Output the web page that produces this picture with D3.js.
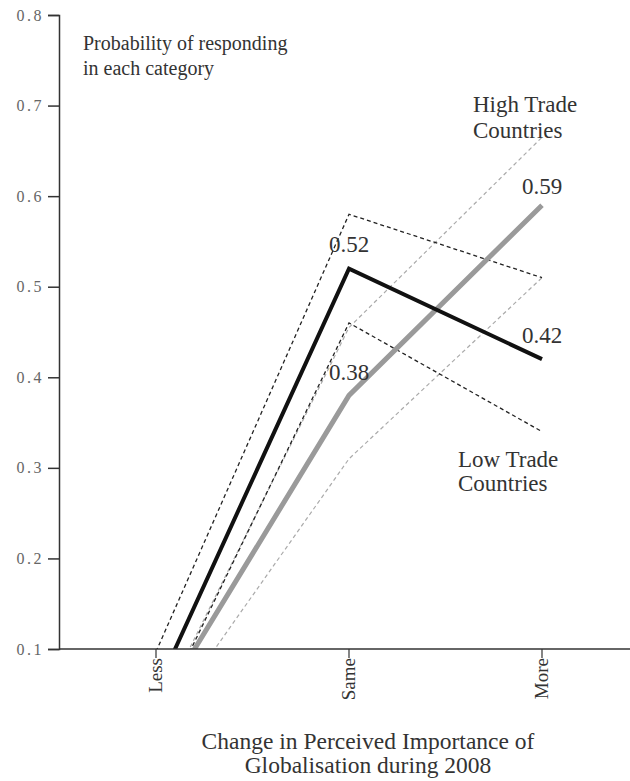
<!DOCTYPE html>
<html>
<head>
<meta charset="utf-8">
<script src="https://cdn.jsdelivr.net/npm/d3@7"></script>
<style>
  body { margin: 0; background: #fff; }
  text { font-family: "Liberation Serif", "DejaVu Serif", serif; }
</style>
</head>
<body>
<script>
  // values (below 0.1 is clipped by the axis)
  var categories = ["Less", "Same", "More"];
  var lowTrade   = [0.054, 0.52, 0.42];
  var lowUpper   = [0.097, 0.58, 0.51];
  var lowLower   = [0.02, 0.46, 0.34];
  var highTrade  = [0.03, 0.38, 0.59];
  var highUpper  = [0.026, 0.455, 0.665];
  var highLower  = [0.008, 0.31, 0.51];
  var yTicks = [0.1, 0.2, 0.3, 0.4, 0.5, 0.6, 0.7, 0.8];

  var width = 630, height = 781;
  var svg = d3.select("body").append("svg")
      .attr("width", width).attr("height", height);

  var x = d3.scalePoint().domain(categories).range([156, 542]);
  var y = d3.scaleLinear().domain([0.1, 0.8]).range([649, 15]);

  svg.append("clipPath").attr("id", "clip")
    .append("rect").attr("x", 59).attr("y", 0).attr("width", width - 59).attr("height", y(0.1));

  var line = d3.line()
      .x(function(d, i) { return x(categories[i]); })
      .y(function(d) { return y(d); });

  var plot = svg.append("g").attr("clip-path", "url(#clip)");

  // confidence bands first, then the estimates
  plot.append("path").attr("d", line(highUpper)).attr("fill", "none")
      .attr("stroke", "#aaa").attr("stroke-width", 1.2).attr("stroke-dasharray", "4,3");
  plot.append("path").attr("d", line(highLower)).attr("fill", "none")
      .attr("stroke", "#aaa").attr("stroke-width", 1.2).attr("stroke-dasharray", "4,3");
  plot.append("path").attr("d", line(lowUpper)).attr("fill", "none")
      .attr("stroke", "#222").attr("stroke-width", 1.3).attr("stroke-dasharray", "4,3");
  plot.append("path").attr("d", line(lowLower)).attr("fill", "none")
      .attr("stroke", "#222").attr("stroke-width", 1.3).attr("stroke-dasharray", "4,3");

  plot.append("path").attr("d", line(highTrade)).attr("fill", "none")
      .attr("stroke", "#9a9a9a").attr("stroke-width", 5);
  plot.append("path").attr("d", line(lowTrade)).attr("fill", "none")
      .attr("stroke", "#111").attr("stroke-width", 4);

  // y axis
  var yAxis = svg.append("g").attr("transform", "translate(59,0)")
      .call(d3.axisLeft(y).tickValues(yTicks).tickSize(11).tickPadding(4).tickFormat(d3.format(".1f")));
  yAxis.select(".domain").attr("stroke", "#333").attr("stroke-width", 1.5);
  yAxis.selectAll(".tick line").attr("stroke", "#333").attr("stroke-width", 1.5);
  yAxis.selectAll(".tick text").attr("fill", "#666").attr("font-size", 16)
      .style("letter-spacing", "2.5px").style("font-family", "Liberation Serif, serif");

  // x axis
  var xAxis = svg.append("g").attr("transform", "translate(0," + y(0.1) + ")");
  xAxis.append("line").attr("x1", 59).attr("x2", width)
      .attr("y1", 0).attr("y2", 0).attr("stroke", "#333").attr("stroke-width", 1.5);
  xAxis.selectAll(".xt").data(categories).enter().append("line")
      .attr("x1", function(d) { return x(d); }).attr("x2", function(d) { return x(d); })
      .attr("y1", 0).attr("y2", 9).attr("stroke", "#333").attr("stroke-width", 1.2);
  xAxis.selectAll(".xl").data(categories).enter().append("text")
      .attr("transform", function(d) { return "translate(" + (x(d) + 6) + ",9) rotate(-90)"; })
      .attr("text-anchor", "end")
      .attr("font-size", 19).attr("fill", "#333")
      .text(function(d) { return d; });

  // value labels
  var labels = [
    {v: lowTrade[1], c: "Same", dx: 0, dy: -17},
    {v: highTrade[1], c: "Same", dx: 0, dy: -15},
    {v: highTrade[2], c: "More", dx: 0, dy: -11},
    {v: lowTrade[2], c: "More", dx: 0, dy: -16}
  ];
  svg.selectAll(".val").data(labels).enter().append("text")
      .attr("x", function(d) { return x(d.c) + d.dx; })
      .attr("y", function(d) { return y(d.v) + d.dy; })
      .attr("text-anchor", "middle").attr("font-size", 23).attr("fill", "#333")
      .text(function(d) { return d3.format(".2f")(d.v); });

  function block(lines, cx, cy, size, anchor, lh) {
    var t = svg.append("text").attr("font-size", size).attr("fill", "#333")
        .attr("text-anchor", anchor);
    lines.forEach(function(s, i) {
      t.append("tspan").attr("x", cx).attr("y", cy + i * lh).text(s);
    });
  }

  block(["High Trade", "Countries"], 473, 112, 23, "start", 26);
  block(["Low Trade", "Countries"], 458, 467, 23, "start", 24);
  block(["Probability of responding", "in each category"], 83, 50, 20, "start", 25);
  block(["Change in Perceived Importance of", "Globalisation during 2008"], 368, 749, 23.5, "middle", 24);
</script>
</body>
</html>
